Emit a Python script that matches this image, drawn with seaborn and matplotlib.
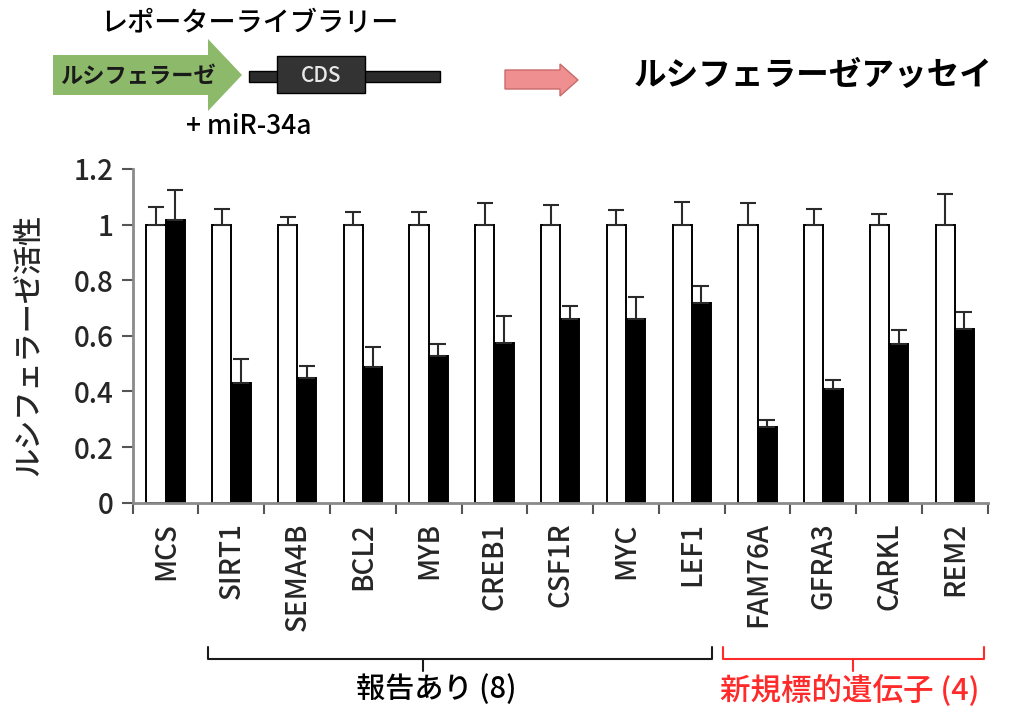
import numpy as np
import pandas as pd
import matplotlib
matplotlib.use("Agg")
import matplotlib.pyplot as plt
from matplotlib.patches import Polygon, Rectangle
from matplotlib.lines import Line2D
import seaborn as sns

# ---- data -------------------------------------------------------------
genes = ["MCS", "SIRT1", "SEMA4B", "BCL2", "MYB", "CREB1", "CSF1R",
         "MYC", "LEF1", "FAM76A", "GFRA3", "CARKL", "REM2"]
conditions = ["control", "miR-34a"]

control_mean = [1.0, 1.0, 1.0, 1.0, 1.0, 1.0, 1.0,
                1.0, 1.0, 1.0, 1.0, 1.0, 1.0]
control_err = [0.063, 0.057, 0.026, 0.046, 0.046, 0.079, 0.069,
               0.052, 0.083, 0.078, 0.057, 0.037, 0.111]
mir_mean = [1.015, 0.430, 0.450, 0.487, 0.529, 0.576, 0.660,
            0.660, 0.718, 0.272, 0.408, 0.571, 0.624]
mir_err = [0.110, 0.087, 0.041, 0.072, 0.042, 0.094, 0.046,
           0.079, 0.061, 0.025, 0.035, 0.050, 0.061]

ytick_values = [0, 0.2, 0.4, 0.6, 0.8, 1.0, 1.2]
ytick_labels = ["0", "0.2", "0.4", "0.6", "0.8", "1", "1.2"]

df = pd.DataFrame({
    "gene": genes * 2,
    "condition": [conditions[0]] * len(genes) + [conditions[1]] * len(genes),
    "activity": control_mean + mir_mean,
})

# ---- style ------------------------------------------------------------
sns.set_style("white")
plt.rcParams["font.family"] = ["Noto Sans CJK JP", "DejaVu Sans"]
plt.rcParams["font.weight"] = 500
plt.rcParams["axes.labelweight"] = 500

W, H = 1009, 708
fig = plt.figure(figsize=(W / 100, H / 100), dpi=100)
fig.patch.set_facecolor("white")

ax = fig.add_axes([132.7 / W, 1 - 502.7 / H, 855.0 / W, 333.7 / H])

sns.barplot(data=df, x="gene", y="activity", hue="condition",
            order=genes, hue_order=conditions,
            palette={"control": "white", "miR-34a": "black"},
            edgecolor="black", linewidth=1.4, width=0.585, gap=0,
            errorbar=None, legend=False, ax=ax, zorder=2)

# one-sided (upper) error bars on every bar
for container, errs in zip(ax.containers, [control_err, mir_err]):
    xs = [p.get_x() + p.get_width() / 2 for p in container]
    hs = [p.get_height() for p in container]
    ax.errorbar(xs, hs, yerr=[np.zeros(len(errs)), errs], fmt="none",
                ecolor="#2a2a2a", elinewidth=1.5, capsize=6,
                capthick=1.5, zorder=3)

ax.set_xlim(-0.5, len(genes) - 0.5)
ax.set_ylim(0, 1.2)
ax.set_yticks(ytick_values)
ax.set_yticklabels(ytick_labels, fontsize=20)

# category boundaries carry the tick marks; names sit at the centres
ax.set_xticks(np.arange(-0.5, len(genes), 1.0))
ax.set_xticklabels([])
ax.set_xticks(np.arange(len(genes)), minor=True)
ax.set_xticklabels(genes, minor=True, rotation=90, fontsize=20)
ax.tick_params(axis="x", which="major", direction="out", length=8,
               width=1.5, color="#555555", bottom=True)
ax.tick_params(axis="x", which="minor", length=0, pad=14)
ax.tick_params(axis="y", direction="out", length=8, width=1.5,
               color="#555555", left=True, pad=6)

for side in ["top", "right"]:
    ax.spines[side].set_visible(False)
for side in ["left", "bottom"]:
    ax.spines[side].set_color("#8a8a8a")
    ax.spines[side].set_linewidth(2)

ax.set_xlabel("")
ax.set_ylabel("ルシフェラーゼ活性", fontsize=21, fontweight=500)
ax.yaxis.set_label_coords(-0.103, (502.7 - 345) / 333.7)

# ---- schematic and group brackets (pixel-space overlay) ----------------
ov = fig.add_axes([0, 0, 1, 1], zorder=5)
ov.set_xlim(0, W)
ov.set_ylim(H, 0)
ov.axis("off")
ov.patch.set_visible(False)

ov.text(250, 23, "レポーターライブラリー", fontsize=19.5,
        ha="center", va="center", color="black")

green_arrow = Polygon([(53, 55), (208, 55), (208, 39), (242, 75),
                       (208, 111), (208, 95), (53, 95)],
                      closed=True, facecolor="#8dba6a", edgecolor="none")
ov.add_patch(green_arrow)
ov.text(138, 76, "ルシフェラーゼ", fontsize=16, fontweight="bold",
        ha="center", va="center", color="#1a1a1a")

ov.add_patch(Rectangle((249, 71), 191, 11, facecolor="#2b2b2b",
                       edgecolor="black", linewidth=1))
ov.add_patch(Rectangle((277, 56), 88, 37, facecolor="#333333",
                       edgecolor="black", linewidth=1))
ov.text(321, 76, "CDS", fontsize=15, ha="center", va="center",
        color="#e8e8e8")

ov.text(249, 126, "+ miR-34a", fontsize=19, ha="center", va="center",
        color="black")

pink_arrow = Polygon([(505, 70), (560, 70), (560, 64), (578, 80),
                      (560, 96), (560, 89), (505, 89)],
                     closed=True, facecolor="#ef8f8f", edgecolor="#c96a6a",
                     linewidth=1)
ov.add_patch(pink_arrow)

ov.text(813, 75, "ルシフェラーゼアッセイ", fontsize=23.5, fontweight="bold",
        ha="center", va="center", color="black")


def bracket(x0, x1, xm, color):
    ov.add_line(Line2D([x0, x0, x1, x1], [647, 659, 659, 647],
                       color=color, linewidth=1.5))
    ov.add_line(Line2D([xm, xm], [659, 671], color=color, linewidth=1.5))


bracket(208, 712, 423, "#1a1a1a")
bracket(723, 984, 853, "#ff2a2a")

ov.text(436, 689, "報告あり (8)", fontsize=21, ha="center", va="center",
        color="black")
ov.text(850, 691, "新規標的遺伝子 (4)", fontsize=22, ha="center",
        va="center", color="#ff2a2a")

fig.savefig("out.png", dpi=100, facecolor="white")
